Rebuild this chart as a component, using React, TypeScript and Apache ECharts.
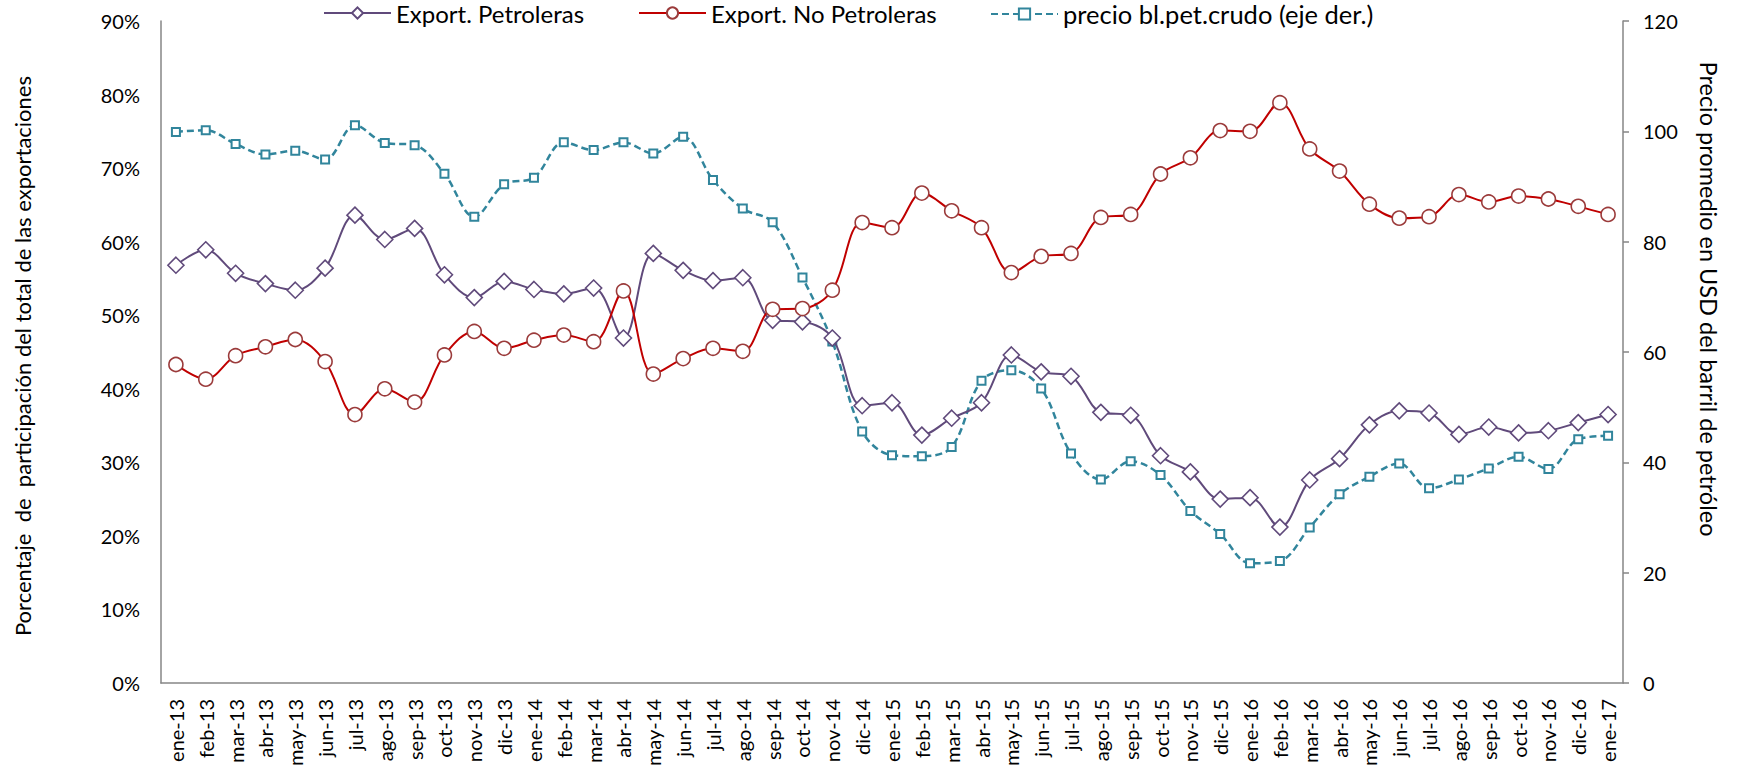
import React, { useEffect, useRef } from "react";
import * as echarts from "echarts";

const categories = [
  "ene-13", "feb-13", "mar-13", "abr-13", "may-13", "jun-13", "jul-13", "ago-13", "sep-13", "oct-13", "nov-13", "dic-13",
  "ene-14", "feb-14", "mar-14", "abr-14", "may-14", "jun-14", "jul-14", "ago-14", "sep-14", "oct-14", "nov-14", "dic-14",
  "ene-15", "feb-15", "mar-15", "abr-15", "may-15", "jun-15", "jul-15", "ago-15", "sep-15", "oct-15", "nov-15", "dic-15",
  "ene-16", "feb-16", "mar-16", "abr-16", "may-16", "jun-16", "jul-16", "ago-16", "sep-16", "oct-16", "nov-16", "dic-16",
  "ene-17",
];

const petroleras = [
  56.8, 58.9, 55.7, 54.3, 53.4, 56.4, 63.6, 60.3, 61.8, 55.5, 52.4, 54.6,
  53.5, 52.9, 53.7, 46.9, 58.4, 56.1, 54.7, 55.1, 49.3, 49.1, 46.9, 37.7,
  38.1, 33.7, 36.0, 38.1, 44.6, 42.3, 41.7, 36.8, 36.4, 30.9, 28.7, 25.0,
  25.2, 21.2, 27.6, 30.5, 35.1, 37.0, 36.7, 33.8, 34.8, 34.0, 34.3, 35.4,
  36.5,
];

const noPetroleras = [
  43.3, 41.3, 44.5, 45.7, 46.7, 43.7, 36.5, 40.0, 38.2, 44.6, 47.8, 45.5,
  46.6, 47.3, 46.4, 53.3, 42.0, 44.1, 45.5, 45.1, 50.8, 50.9, 53.4, 62.6,
  61.9, 66.6, 64.2, 61.9, 55.8, 58.0, 58.4, 63.3, 63.7, 69.2, 71.4, 75.1,
  75.0, 78.9, 72.6, 69.6, 65.1, 63.2, 63.4, 66.4, 65.4, 66.2, 65.8, 64.8,
  63.7,
];

const precio = [
  99.9, 100.2, 97.7, 95.8, 96.5, 94.9, 101.1, 97.9, 97.5, 92.3, 84.5, 90.4,
  91.6, 98.0, 96.6, 98.0, 96.0, 99.0, 91.2, 86.0, 83.5, 73.5, 61.9, 45.6,
  41.3, 41.1, 42.8, 54.8, 56.7, 53.4, 41.6, 36.9, 40.2, 37.7, 31.2, 27.0,
  21.7, 22.1, 28.2, 34.2, 37.4, 39.8, 35.3, 36.9, 38.9, 41.0, 38.8, 44.2,
  44.8,
];

const seriesNames = [
  "Export. Petroleras",
  "Export. No Petroleras",
  "precio bl.pet.crudo (eje der.)",
];

const leftTitle = "Porcentaje  de  participación del total de las exportaciones";
const rightTitle = "Precio promedio en USD del barril de petróleo";

const FONT = "Lato";
const AXIS_COLOR = "#868686";

export default function App() {
  const ref = useRef<HTMLDivElement>(null);

  useEffect(() => {
    if (!ref.current) return;
    const chart = echarts.init(ref.current, undefined, { renderer: "svg" });
    const legendBase = {
      top: 1,
      padding: 0,
      itemWidth: 67,
      itemHeight: 14,
      textStyle: { fontSize: 24, color: "#000", fontFamily: FONT },
    };
    chart.setOption({
      animation: false,
      backgroundColor: "#ffffff",
      textStyle: { fontFamily: FONT },
      grid: { left: 161, right: 115, top: 21, bottom: 88, containLabel: false },
      legend: [
        { ...legendBase, left: 323, data: [seriesNames[0]] },
        { ...legendBase, left: 638, data: [seriesNames[1]] },
        {
          ...legendBase,
          left: 990,
          data: [seriesNames[2]],
          textStyle: { fontSize: 25.5, color: "#000", fontFamily: FONT },
        },
      ],
      xAxis: {
        type: "category",
        data: categories,
        boundaryGap: true,
        axisLine: { show: true, lineStyle: { color: AXIS_COLOR, width: 1.5 } },
        axisTick: { show: false },
        axisLabel: { rotate: 90, interval: 0, margin: 16, fontSize: 20, color: "#000", fontFamily: FONT },
        splitLine: { show: false },
      },
      yAxis: [
        {
          type: "value",
          min: 0,
          max: 90,
          interval: 10,
          position: "left",
          axisLine: { show: true, lineStyle: { color: AXIS_COLOR, width: 1.5 } },
          axisTick: { show: false },
          splitLine: { show: false },
          axisLabel: { formatter: "{value}%", margin: 21, fontSize: 20, color: "#000", fontFamily: FONT },
        },
        {
          type: "value",
          min: 0,
          max: 120,
          interval: 20,
          position: "right",
          axisLine: { show: true, lineStyle: { color: AXIS_COLOR, width: 1.5 } },
          axisTick: { show: true, length: 6, lineStyle: { color: AXIS_COLOR, width: 1.5 } },
          splitLine: { show: false },
          axisLabel: { margin: 20, fontSize: 20, color: "#000", fontFamily: FONT },
        },
      ],
      series: [
        {
          name: seriesNames[0],
          type: "line",
          yAxisIndex: 0,
          data: petroleras,
          smooth: 0.35,
          symbol: "diamond",
          symbolSize: 16,
          lineStyle: { color: "#604a7b", width: 2 },
          itemStyle: { color: "#ffffff", borderColor: "#604a7b", borderWidth: 1.6 },
          z: 3,
        },
        {
          name: seriesNames[1],
          type: "line",
          yAxisIndex: 0,
          data: noPetroleras,
          smooth: 0.35,
          symbol: "circle",
          symbolSize: 14,
          lineStyle: { color: "#c00000", width: 2 },
          itemStyle: { color: "#ffffff", borderColor: "#9b3b3b", borderWidth: 1.6 },
          z: 3,
        },
        {
          name: seriesNames[2],
          type: "line",
          yAxisIndex: 1,
          data: precio,
          smooth: 0.35,
          symbol: "rect",
          symbolSize: 8,
          lineStyle: { color: "#31859c", width: 2.5, type: [7, 4] },
          itemStyle: { color: "#ffffff", borderColor: "#31859c", borderWidth: 2 },
          z: 2,
        },
      ],
      graphic: [
        {
          type: "text",
          x: 22,
          y: 356,
          rotation: Math.PI / 2,
          style: {
            text: leftTitle,
            fontSize: 22,
            fontFamily: FONT,
            fill: "#000",
            align: "center",
            verticalAlign: "middle",
          },
        },
        {
          type: "text",
          x: 1709,
          y: 299,
          rotation: -Math.PI / 2,
          style: {
            text: rightTitle,
            fontSize: 23.5,
            fontFamily: FONT,
            fill: "#000",
            align: "center",
            verticalAlign: "middle",
          },
        },
      ],
    });
    return () => chart.dispose();
  }, []);

  return (
    <div
      ref={ref}
      style={{ position: "absolute", left: 0, top: 0, width: 1738, height: 771, background: "#fff" }}
    />
  );
}
